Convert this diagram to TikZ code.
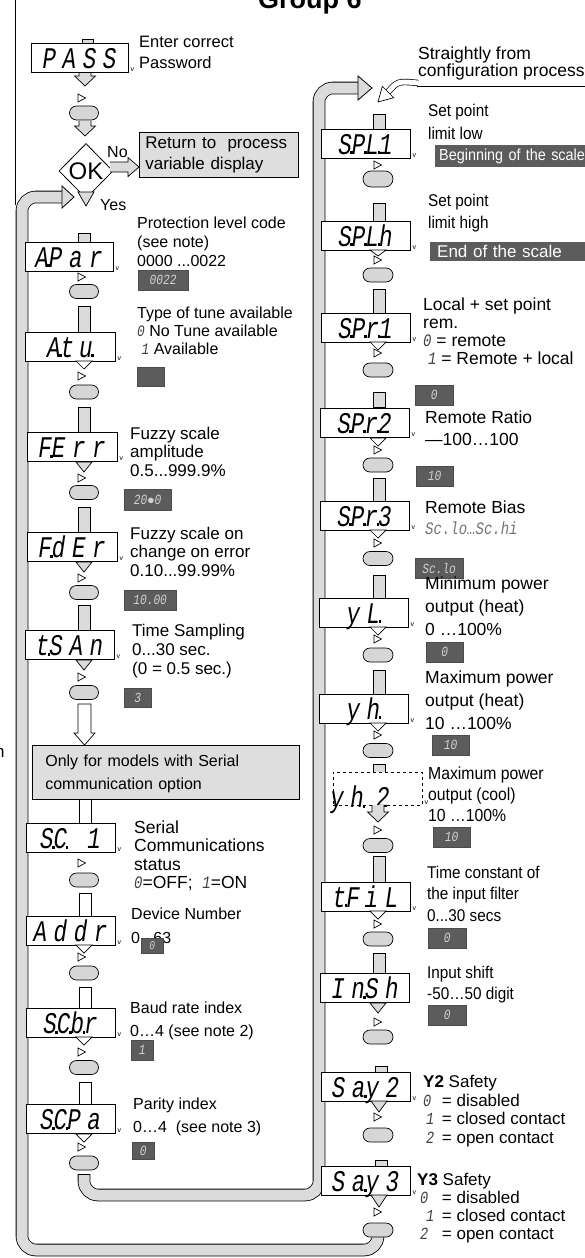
\documentclass[tikz,border=0pt]{standalone}
\usepackage{fontspec}
\setmainfont{Liberation Sans}
\newfontfamily\segfont[FakeStretch=0.75,LetterSpace=22]{Liberation Mono}
\newfontfamily\segsmall[FakeStretch=0.8]{Liberation Mono}
\newfontfamily\narrowfont[FakeStretch=0.9]{Liberation Sans}
\usetikzlibrary{calc,shapes.geometric}
\definecolor{tubegray}{gray}{0.86}
\definecolor{pillgray}{gray}{0.84}
\definecolor{darkbox}{gray}{0.36}
\definecolor{boxgray}{gray}{0.87}
\newcommand\sd{\kern-1.5pt\rule{2.6pt}{2.6pt}\kern-1pt}
\newcommand\sg[1]{{\segsmall\itshape\color{black!75}#1}}
\newcommand\fs[2]{\fontsize{#1}{#2}\selectfont}
\newcommand\trim[2]{\draw[trimark] (#1-3.5,#2-4) -- (#1+4,#2) -- (#1-3.5,#2+4) -- cycle;}
\newcommand\chev[4]{\draw[line width=0.7pt, fill=#4] (#1-8,#2) -- (#1+8,#2) -- (#1,#2+#3) -- cycle;}
\newcommand\dblk[4]{\draw[line width=0.7pt, fill=#4] (#1-6,#2) -- (#1-6,#3-10) -- (#1-10.5,#3-10) -- (#1,#3) -- (#1+10.5,#3-10) -- (#1+6,#3-10) -- (#1+6,#2);}
\newcommand\tabbar[4]{\draw[#1] let \p1=(#4.north) in (#2-6,#3) rectangle (#2+6,\y1);}
\begin{document}
\begin{tikzpicture}[x=1pt,y=-1pt,
  disp/.style={draw, fill=white, line width=0.8pt, minimum width=89pt, minimum height=29pt, inner sep=0pt, text height=21pt, text depth=0pt, font=\segfont\itshape\fs{30}{30}},
  pill/.style={draw, fill=pillgray, rounded corners=7pt, minimum width=29pt, minimum height=14pt, inner sep=0pt, line width=0.7pt},
  val/.style={fill=darkbox, draw=black!70, line width=0.3pt, inner sep=0pt, anchor=north west, text=black!18, font=\segsmall\itshape\fs{14}{14}},
  lbl/.style={anchor=base west, align=left, inner sep=0pt},
  tabg/.style={draw, fill=tubegray, line width=0.7pt},
  tabw/.style={draw, fill=white, line width=0.7pt},
  tube/.style={draw=black, line width=0.8pt, double=tubegray, double distance=11pt, rounded corners=14pt},
  trimark/.style={draw, line width=0.7pt, fill=white},
  vmark/.style={font=\fs{7}{7}, inner sep=0pt, anchor=south west},
  headst/.style={draw, line width=0.8pt, fill=tubegray}]
\fill[white] (0,0) rectangle (585,1258);
\useasboundingbox (0,0) rectangle (585,1258);

% title and left edge
\node[anchor=base west, inner sep=0pt, font=\bfseries\fs{27}{27}] (title) at (258,9) {Group 6};
\draw[line width=0.8pt] (15.7,0) -- (15.7,205);
\node[anchor=base west, inner sep=0pt, font=\fs{17}{17}] (frag) at (-5,757) {n};

% ---------- big tubes ----------
\coordinate (a1) at (378,1250);
\coordinate (a2) at (22,1250);
\coordinate (a3) at (22,197);
\coordinate (a4) at (63,197);
\coordinate (b1) at (84,1195);
\coordinate (b2) at (319,1195);
\coordinate (b3) at (319,88);
\coordinate (b4) at (360,88);
\draw[tube] (378,1236) -- (a1) -- (a2) -- (a3) -- (a4);
\draw[headst] (62,186) -- (74,197) -- (62,208) -- cycle;
\draw[tube] (84,1174) -- (b1) -- (b2) -- (b3) -- (b4);
\draw[line width=0.8pt] (77.7,1174) -- (90.3,1174);
\draw[headst] (358,76) -- (372,88) -- (358,100) -- cycle;

% config arrow
\coordinate (c0) at (418,83);
\coordinate (c1) at (388,92);
\draw[line width=0.7pt, double=white, double distance=5pt] (c0) .. controls (398,81) .. (c1);
\draw[line width=0.7pt, fill=white] (382.3,86.3) -- (393.7,97.7) -- (378,102) -- cycle;
\draw[line width=0.7pt] (417,86.5) -- (590,86.5);
\node[lbl, font=\fs{17.5}{17.5}] (cfg) at (418,76.5) {Straightly from\\configuration process};

% ---------- PASS ----------
\draw[tabg] (82,39) rectangle (93,43);
\node[disp, minimum width=97pt] (pass) at (79.5,58) {PASS};

\node[pill] (p0) at (84,113) {};
\node[pill] (papar) at (84,291.5) {};
\node[pill] (patu) at (84,392) {};
\node[pill] (pferr) at (84,492.5) {};
\node[pill] (pfder) at (84,592.5) {};
\node[pill] (ptsan) at (84,692.5) {};
\node[pill] (psc1) at (84,880) {};
\node[pill] (paddr) at (84,973) {};
\node[pill] (pscbr) at (84,1067.5) {};
\node[pill] (pscpa) at (84,1163) {};

\node[pill, minimum width=30pt, minimum height=16pt, rounded corners=8pt] (pspl1) at (378,179) {};
\node[pill, minimum width=30pt] (psplh) at (378,275) {};
\node[pill, minimum width=30pt] (pspr1) at (378,370) {};
\node[pill, minimum width=30pt] (pspr2) at (378,465) {};
\node[pill, minimum width=30pt] (pspr3) at (378,558.5) {};
\node[pill, minimum width=30pt] (pyl) at (378,655) {};
\node[pill, minimum width=30pt] (pyh) at (378,750.5) {};
\node[pill, minimum width=30pt] (pyh2) at (378,845.5) {};
\node[pill, minimum width=30pt] (ptfil) at (378,939) {};
\node[pill, minimum width=30pt] (pinsh) at (378,1037) {};
\node[pill, minimum width=30pt] (psay2) at (378,1135) {};
\node[pill, minimum width=30pt] (psay3) at (378,1230) {};

% coordinates of display tops for tabs
\path (69,242) coordinate (tapar) (70,332) coordinate (tatu) (72,432) coordinate (tferr)
      (72,532) coordinate (tfder) (69.5,630) coordinate (ttsan) (70.5,823) coordinate (tsc1)
      (70.5,916) coordinate (taddr) (70.5,1009) coordinate (tscbr) (70.5,1104) coordinate (tscpa);
\path (365.5,129) coordinate (tspl1) (365.5,221) coordinate (tsplh) (365.5,313) coordinate (tspr1)
      (364.5,407) coordinate (tspr2) (364.5,501) coordinate (tspr3) (363.5,598) coordinate (tyl)
      (363.5,694) coordinate (tyh) (377.5,772) coordinate (tyh2) (365.5,882) coordinate (ttfil)
      (365,973) coordinate (tinsh) (365.5,1073) coordinate (tsay2) (365.5,1167) coordinate (tsay3);

\tabbar{tabg}{84}{233}{tapar}
\tabbar{tabg}{84}{306}{tatu}
\tabbar{tabg}{84}{407}{tferr}
\tabbar{tabg}{84}{507}{tfder}
\tabbar{tabg}{84}{605}{ttsan}
\tabbar{tabw}{85}{799}{tsc1}
\tabbar{tabw}{85}{893}{taddr}
\tabbar{tabw}{85}{987}{tscbr}
\tabbar{tabw}{85}{1082}{tscpa}

\tabbar{tabg}{379}{114}{tspl1}
\tabbar{tabg}{379}{203}{tsplh}
\tabbar{tabg}{379}{289}{tspr1}
\tabbar{tabg}{379}{392}{tspr2}
\tabbar{tabg}{379}{478}{tspr3}
\tabbar{tabg}{379}{575}{tyl}
\tabbar{tabg}{379}{670}{tyh}
\tabbar{tabg}{379}{764}{tyh2}
\tabbar{tabg}{379}{856}{ttfil}
\tabbar{tabg}{379}{953}{tinsh}
\tabbar{tabg}{381}{1066}{tsay2}
\tabbar{tabg}{381}{1160}{tsay3}

% ---------- displays ----------
\node[disp, minimum width=88pt] (apar) at (69,256.5) {A\sd Par};
\node[disp, minimum width=90pt] (atu) at (70,346.5) {A\sd t\,u\sd\ };
\node[disp, minimum width=90pt] (ferr) at (72,447) {F\sd Err};
\node[disp, minimum width=90pt] (fder) at (72,547) {F\sd dEr};
\node[disp] (tsan) at (69.5,645) {t\sd SAn};
\node[disp] (sc1) at (70.5,838) {S\sd C\sd\ 1};
\node[disp] (addr) at (70.5,930.5) {Addr};
\node[disp] (scbr) at (70.5,1023) {S\sd C\sd b\sd r};
\node[disp] (scpa) at (70.5,1119) {S\sd C\sd Pa};

\node[disp] (spl1) at (365.5,143.5) {S\sd P\sd L\sd 1};
\node[disp] (splh) at (365.5,235.5) {S\sd P\sd L\sd h};
\node[disp] (spr1) at (365.5,327.5) {S\sd P\sd r\sd 1};
\node[disp] (spr2) at (364.5,422.5) {S\sd P\sd r\sd 2};
\node[disp] (spr3) at (364.5,515.5) {S\sd P\sd r\sd 3};
\node[disp] (yl) at (363.5,612.5) {yL\sd\hspace{34pt}};
\node[disp] (yh) at (363.5,708.5) {yh\sd\hspace{34pt}};
\node[draw, dashed, line width=0.6pt, minimum width=89pt, minimum height=33pt, fill=white] (yh2) at (377.5,788.5) {};
\node[inner sep=0pt, font=\segfont\itshape\fs{30}{30}] (yh2t) at (360,800) {yh\sd\hspace{12pt}2};
\node[disp] (tfil) at (365.5,896.5) {t\sd F\,iL};
\node[disp] (insh) at (365,988) {In\sd Sh};
\node[disp] (say2) at (365.5,1087) {Sa\sd y2};
\node[disp] (say3) at (365.5,1181) {Sa\sd y3};

% v marks
\foreach \dn in {pass,apar,atu,ferr,fder,tsan,sc1,addr,scbr,scpa,spl1,splh,spr1,spr2,spr3,yl,yh,yh2,tfil,say2,say3}
  {\node[vmark] at ($(\dn.south east)+(2,-1)$) {v};}

% ---------- PASS / OK section ----------
\dblk{85}{73}{86}{tubegray}
\trim{81.5}{98}
\dblk{85}{121}{136}{tubegray}
\node[draw, diamond, line width=0.8pt, fill=white, minimum width=54pt, minimum height=55pt, inner sep=0pt, font=\fs{24}{24}] (ok) at (86,171) {OK};
\chev{86}{192}{14}{tubegray}
\node[draw, fill=boxgray, line width=0.7pt, anchor=north west, minimum width=159pt, minimum height=45pt, text width=147pt, inner xsep=6pt, align=left, font=\fs{17}{21}] (ret) at (139,132) {Return to\ \ process\\variable display};
\draw[line width=0.7pt, fill=tubegray] (110,162) -- (128,162) -- (128,157.5) -- (139,167) -- (128,176.5) -- (128,172) -- (110,172);
\node[lbl, font=\fs{16}{16}] (no) at (107,157) {No};
\node[lbl, font=\fs{16}{16}] (yes) at (100,210) {Yes};
\node[lbl, font=\fs{16.5}{21}] (passl) at (139,68) {Enter correct\\Password};

% ---------- left column ----------
\foreach \yy in {277,376,478,578,677,863,957,1052,1147} {\trim{81.5}{\yy}}
\chev{84}{361}{8}{white}
\chev{84}{462}{10}{tubegray}
\chev{84}{562}{10}{tubegray}
\chev{84}{660}{10}{tubegray}
\chev{84}{945}{8}{white}
\chev{84}{1037}{8}{white}
\chev{84}{1134}{8}{white}

\node[lbl, font=\fs{16}{19}] (laPar) at (137,266) {Protection level code\\(see note)\\0000 ...0022};
\node[val, minimum width=50pt, minimum height=20pt] (vapar) at (138,270) {0022};
\node[lbl, font=\fs{16}{18}] (latu) at (137,354) {Type of tune available\\\sg{0} No Tune available\\\ \sg{1} Available};
\node[val, minimum width=27pt, minimum height=19pt] (vatu) at (137,367) {};
\node[lbl, font=\fs{17}{18.5}] (lferr) at (130,476) {Fuzzy scale\\amplitude\\0.5...999.9\%};
\node[val, minimum width=47pt, minimum height=21pt] (vferr) at (124,489) {20$\bullet$0};
\node[lbl, font=\fs{17}{18.5}] (lfder) at (130,576) {Fuzzy scale on\\change on error\\0.10...99.99\%};
\node[val, minimum width=52pt, minimum height=20pt] (vfder) at (124,590) {10.00};
\node[lbl, font=\fs{17}{19}] (ltsan) at (132,674) {Time Sampling\\0...30 sec.\\(0 = 0.5 sec.)};
\node[val, minimum width=27pt, minimum height=19pt] (vtsan) at (124,688) {3};

\draw[line width=0.7pt, fill=white] (78,704) -- (78,733) -- (74,733) -- (84.5,745) -- (95,733) -- (91,733) -- (91,704) -- cycle;
\node[draw, fill=boxgray, line width=0.7pt, anchor=north west, minimum width=267pt, minimum height=54pt, text width=241pt, inner xsep=13pt, align=left, font=\fs{16}{23}] (serial) at (32,745) {\rule{0pt}{14pt}Only for models with Serial\\communication option};

\node[lbl, font=\fs{17.5}{18.5}] (lsc1) at (134,888.5) {Serial\\Communications\\status\\\sg{0}=OFF;\ \ \sg{1}=ON};
\node[lbl, font=\fs{16}{24}] (laddr) at (131,943) {Device Number\\0...63};
\node[val, minimum width=22pt, minimum height=15pt, font=\segsmall\itshape\fs{12}{12}] (vaddr) at (141,938) {0};
\node[lbl, font=\fs{16}{23}] (lscbr) at (130,1036) {Baud rate index\\0…4 (see note 2)};
\node[val, minimum width=22pt, minimum height=20pt] (vscbr) at (131,1040) {1};
\node[lbl, font=\fs{16}{23}] (lscpa) at (133,1132) {Parity index\\0…4\ \ (see note 3)};
\node[val, minimum width=22pt, minimum height=17pt] (vscpa) at (132,1142) {0};

% ---------- right column ----------
\foreach \yy in {165,260,353,450,543,639,735,830,924,1022,1117,1212} {\trim{377.5}{\yy}}
\chev{378}{250}{6}{white}
\chev{378}{342}{8}{white}
\chev{378}{438}{8}{white}
\chev{378}{530}{8}{white}
\chev{378}{627}{8}{white}
\chev{378}{723}{8}{white}
\dblk{378}{805}{822}{tubegray}
\chev{378}{911}{8}{white}
\chev{378}{1003}{10}{tubegray}
\chev{379}{1101}{11}{tubegray}
\chev{379}{1195}{12}{tubegray}

\node[lbl, font=\narrowfont\fs{17}{23}] (lspl1) at (428,139) {Set point\\limit low};
\node[fill=darkbox, anchor=north west, minimum width=160pt, minimum height=22pt, text width=152pt, inner xsep=3pt, inner ysep=0pt, align=left, text=white, font=\narrowfont\fs{16}{16}] (vspl1) at (435,145) {Beginning of the scale};
\node[lbl, font=\narrowfont\fs{17}{22}] (lsplh) at (428,228) {Set point\\limit high};
\node[fill=darkbox, anchor=north west, minimum width=160pt, minimum height=19pt, text width=146pt, inner xsep=7pt, inner ysep=0pt, align=left, text=white, font=\fs{17}{17}] (vsplh) at (430,242) {End of the scale};
\node[lbl, font=\fs{17.5}{17.7}] (lspr1) at (423,364) {Local + set point\\rem.\\\sg{0} = remote\\\ \sg{1} = Remote + local};
\node[val, minimum width=38pt, minimum height=20pt] (vspr1) at (415,385) {0};
\node[lbl, font=\fs{17.5}{22}] (lspr2) at (425,445) {Remote Ratio\\—100…100};
\node[val, minimum width=37pt, minimum height=20pt] (vspr2) at (416,466) {10};
\node[lbl, font=\fs{17.5}{21}] (lspr3) at (425,534) {Remote Bias\\{\segsmall\itshape\color{black!55}Sc.lo…Sc.hi}};
\node[val, minimum width=48pt, minimum height=20pt] (vspr3) at (415,558) {Sc.lo};
\node[lbl, font=\fs{17.5}{23}] (lyl) at (425,635) {Minimum power\\output (heat)\\0 …100\%};
\node[val, minimum width=37pt, minimum height=20pt] (vyl) at (426,642) {0};
\node[lbl, font=\fs{17.5}{23}] (lyh) at (425,729) {Maximum power\\output (heat)\\10 …100\%};
\node[val, minimum width=37pt, minimum height=20pt] (vyh) at (432,735) {10};
\node[lbl, font=\narrowfont\fs{17.5}{21}] (lyh2) at (428,821) {Maximum power\\output (cool)\\10 …100\%};
\node[val, minimum width=37pt, minimum height=20pt] (vyh2) at (433,827) {10};
\node[lbl, font=\narrowfont\fs{17}{21.5}] (ltfil) at (427,921) {Time constant of\\the input filter\\0...30 secs};
\node[val, minimum width=38pt, minimum height=20pt] (vtfil) at (428,928) {0};
\node[lbl, font=\narrowfont\fs{17}{21}] (linsh) at (427,999) {Input shift\\-50…50 digit};
\node[val, minimum width=38pt, minimum height=20pt] (vinsh) at (428,1005) {0};
\node[lbl, font=\fs{17}{18.4}] (lsay2) at (423,1143) {\textbf{Y2} Safety\\\makebox[14pt][l]{\sg{0}} = disabled\\\makebox[14pt][r]{\sg{1}\,} = closed contact\\\makebox[14pt][l]{\,\sg{2}} = open contact};
\node[lbl, font=\fs{17}{17.7}] (lsay3) at (417,1239) {\textbf{Y3} Safety\\\makebox[20pt][l]{\,\sg{0}} = disabled\\\makebox[20pt][r]{\sg{1}\,} = closed contact\\\makebox[20pt][l]{\,\sg{2}} = open contact};
\end{tikzpicture}
\end{document}
